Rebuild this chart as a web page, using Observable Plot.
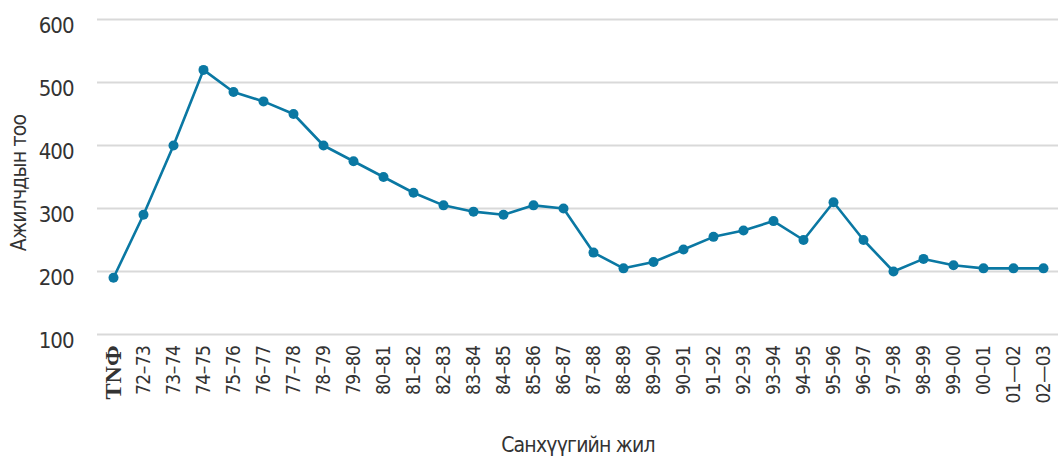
<!DOCTYPE html>
<html>
<head>
<meta charset="utf-8">
<script src="https://cdn.jsdelivr.net/npm/d3@7"></script>
<script src="https://cdn.jsdelivr.net/npm/@observablehq/plot@0.6"></script>
<style>
  html, body { margin: 0; padding: 0; background: #fff; }
  #chart { width: 1058px; height: 460px; }
  #chart svg text { font-family: 'DejaVu Sans', sans-serif; font-stretch: condensed; }
  #chart svg g[aria-label='y-axis tick label'] { font-size: 22px; letter-spacing: -1px; }
  #chart svg g[aria-label='x-axis tick label'] { font-size: 19px; letter-spacing: -0.5px; }
  #chart svg text.serif { font-family: 'Liberation Serif', serif; font-stretch: normal; font-weight: bold; font-size: 24px; letter-spacing: 0px; }
</style>
</head>
<body>
<div id="chart"></div>
<script>
const years = ["ТNФ","72–73","73–74","74–75","75–76","76–77","77–78","78–79","79–80","80–81","81–82","82–83","83–84","84–85","85–86","86–87","87–88","88–89","89–90","90–91","91–92","92–93","93–94","94–95","95–96","96–97","97–98","98–99","99–00","00–01","01—02","02—03"];
const workers = [190,290,400,520,485,470,450,400,375,350,325,305,295,290,305,300,230,205,215,235,255,265,280,250,310,250,200,220,210,205,205,205];
const yTicks = [100,200,300,400,500,600];

const data = years.map((y, i) => ({year: y, value: workers[i]}));

const chart = Plot.plot({
  width: 1058,
  height: 460,
  marginTop: 19,
  marginBottom: 126,
  marginLeft: 97,
  marginRight: 0,
  style: {fontSize: "19px", color: "#333", background: "#fff"},
  x: {type: "point", domain: years, padding: 0.47, label: null},
  y: {domain: [100, 600], label: null},
  marks: [
    Plot.gridY(yTicks, {stroke: "#d9d9d9", strokeOpacity: 1, strokeWidth: 2}),
    Plot.axisY(yTicks, {tickSize: 0, tickPadding: 24, dy: 6, label: null}),
    Plot.axisX({tickRotate: -90, tickSize: 0, tickPadding: 11, label: null}),
    Plot.line(data, {x: "year", y: "value", stroke: "#0a78a3", strokeWidth: 2.6}),
    Plot.dot(data, {x: "year", y: "value", fill: "#0a78a3", r: 5})
  ]
});

const svg = d3.select(chart);
svg.append("text")
  .attr("x", 578).attr("y", 452)
  .attr("text-anchor", "middle")
  .attr("font-size", 21)
  .attr("letter-spacing", "-0.8px")
  .attr("fill", "#333")
  .text("Санхүүгийн жил");
svg.append("text")
  .attr("transform", "translate(26,183) rotate(-90)")
  .attr("text-anchor", "middle")
  .attr("font-size", 21)
  .attr("letter-spacing", "-0.8px")
  .attr("fill", "#333")
  .text("Ажилчдын тоо");

svg.selectAll("g[aria-label='x-axis tick label'] text").each(function(d, i) {
  if (i === 0) d3.select(this).attr("class", "serif");
});

document.getElementById("chart").appendChild(chart);
</script>
</body>
</html>
